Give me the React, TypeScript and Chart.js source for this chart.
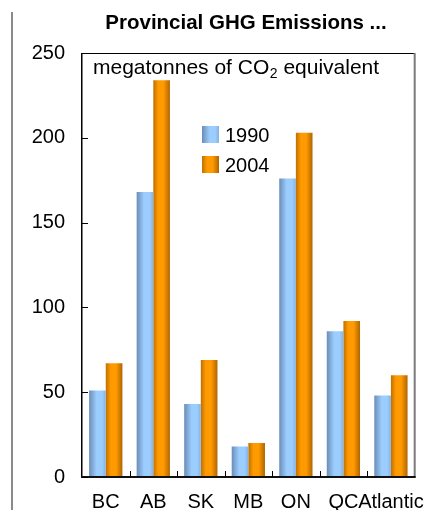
import React, { useEffect, useRef } from "react";
import { Chart, registerables } from "chart.js";

Chart.register(...registerables);

const categories = ["BC", "AB", "SK", "MB", "ON", "QC", "Atlantic"];
const values1990 = [51, 168, 43, 18, 176, 86, 48];
const values2004 = [67, 234, 69, 20, 203, 92, 60];
const seriesLabels = ["1990", "2004"];
const yMin = 0;
const yMax = 250;
const yStep = 50;
const titleText = "Provincial GHG Emissions ...";
const unitPre = "megatonnes of CO";
const unitSub = "2";
const unitPost = " equivalent";

const FONT = "'Liberation Sans', Arial, sans-serif";

const blueStops: [number, string][] = [
  [0, "#6a8db6"],
  [0.45, "#9ccdff"],
  [0.78, "#9ccdff"],
  [1, "#86b2de"],
];
const orangeStops: [number, string][] = [
  [0, "#bf7000"],
  [0.3, "#ff9a00"],
  [0.62, "#ff9a00"],
  [1, "#b06500"],
];
const stopsFor = [blueStops, orangeStops];

function makeGrad(ctx: CanvasRenderingContext2D, x0: number, x1: number, stops: [number, string][]) {
  const g = ctx.createLinearGradient(x0, 0, x1, 0);
  stops.forEach(([o, c]) => g.addColorStop(o, c));
  return g;
}

const gradientPlugin = {
  id: "barGradients",
  beforeDatasetsDraw(chart: any) {
    const ctx = chart.ctx;
    chart.data.datasets.forEach((_: any, di: number) => {
      const meta = chart.getDatasetMeta(di);
      meta.data.forEach((el: any) => {
        const left = el.x - el.width / 2;
        const g = makeGrad(ctx, left, left + el.width, stopsFor[di]);
        el.options = { ...el.options, backgroundColor: g };
      });
    });
  },
};

const decorPlugin = {
  id: "decor",
  afterDraw(chart: any) {
    const ctx: CanvasRenderingContext2D = chart.ctx;
    const { left, right, top, bottom } = chart.chartArea;
    const ys = chart.scales.y;
    ctx.save();

    // page separator line
    ctx.fillStyle = "#8a8a8a";
    ctx.fillRect(11, 12, 2, 498);

    // frame
    ctx.fillStyle = "#000";
    ctx.fillRect(left, top, right - left, 1);
    ctx.fillRect(left - 1, top, 1.5, bottom - top);
    ctx.fillStyle = "#7a7a7a";
    ctx.fillRect(right - 1, top, 2, bottom - top);
    ctx.fillStyle = "#111";
    ctx.fillRect(left - 1, bottom - 1, right - left + 2, 2);

    // y ticks inward
    ctx.fillStyle = "#000";
    for (let v = yMin; v <= yMax; v += yStep) {
      const y = Math.round(ys.getPixelForValue(v));
      ctx.fillRect(left, y, 6, 1);
    }
    // x ticks inward at category boundaries
    const n = categories.length;
    const w = (right - left) / n;
    for (let i = 1; i < n; i++) {
      const x = Math.round(left + w * i);
      ctx.fillRect(x, bottom - 6, 1, 6);
    }

    // title
    ctx.fillStyle = "#000";
    ctx.font = `bold 20.5px ${FONT}`;
    ctx.textAlign = "center";
    ctx.textBaseline = "alphabetic";
    ctx.fillText(titleText, 246, 29);

    // unit annotation
    ctx.textAlign = "left";
    ctx.font = `21px ${FONT}`;
    let x = 93;
    const by = 74;
    ctx.fillText(unitPre, x, by);
    x += ctx.measureText(unitPre).width;
    ctx.font = `14px ${FONT}`;
    ctx.fillText(unitSub, x + 0.5, by + 4);
    x += ctx.measureText(unitSub).width + 0.5;
    ctx.font = `21px ${FONT}`;
    ctx.fillText(unitPost, x, by);

    // legend
    const lx = 202;
    const lys = [126, 156];
    seriesLabels.forEach((lab, i) => {
      const y0 = lys[i];
      ctx.fillStyle = makeGrad(ctx, lx, lx + 17, stopsFor[i]);
      ctx.fillRect(lx, y0, 17, 17);
      ctx.fillStyle = "#000";
      ctx.font = `20px ${FONT}`;
      ctx.fillText(lab, 225, y0 + 16);
    });

    ctx.restore();
  },
};

export default function App() {
  const ref = useRef<HTMLCanvasElement | null>(null);
  useEffect(() => {
    if (!ref.current) return;
    const chart = new Chart(ref.current, {
      type: "bar",
      data: {
        labels: categories,
        datasets: [
          { label: seriesLabels[0], data: values1990, backgroundColor: "#99ccff", borderWidth: 0 },
          { label: seriesLabels[1], data: values2004, backgroundColor: "#ff9900", borderWidth: 0 },
        ],
      },
      options: {
        responsive: false,
        animation: false,
        devicePixelRatio: 1,
        layout: { padding: { top: 53, right: 18, left: 0, bottom: 0 } },
        plugins: {
          legend: { display: false },
          title: { display: false },
          tooltip: { enabled: false },
        },
        datasets: { bar: { categoryPercentage: 0.7, barPercentage: 1.0 } },
        scales: {
          x: {
            grid: { display: false, drawTicks: false },
            border: { display: false },
            ticks: { font: { family: FONT, size: 20 }, color: "#000", padding: 13, maxRotation: 0, autoSkip: false },
            afterFit: (s: any) => {
              s.height = 33;
            },
          },
          y: {
            min: yMin,
            max: yMax,
            grid: { display: false, drawTicks: false },
            border: { display: false },
            ticks: { stepSize: yStep, font: { family: FONT, size: 20 }, color: "#000", padding: 17 },
            afterFit: (s: any) => {
              s.width = 82;
            },
          },
        },
      },
      plugins: [gradientPlugin, decorPlugin],
    });
    return () => chart.destroy();
  }, []);
  return (
    <div style={{ position: "absolute", left: 0, top: 0, width: 438, height: 510, background: "#fff" }}>
      <canvas ref={ref} width={438} height={510} style={{ display: "block" }} />
    </div>
  );
}
